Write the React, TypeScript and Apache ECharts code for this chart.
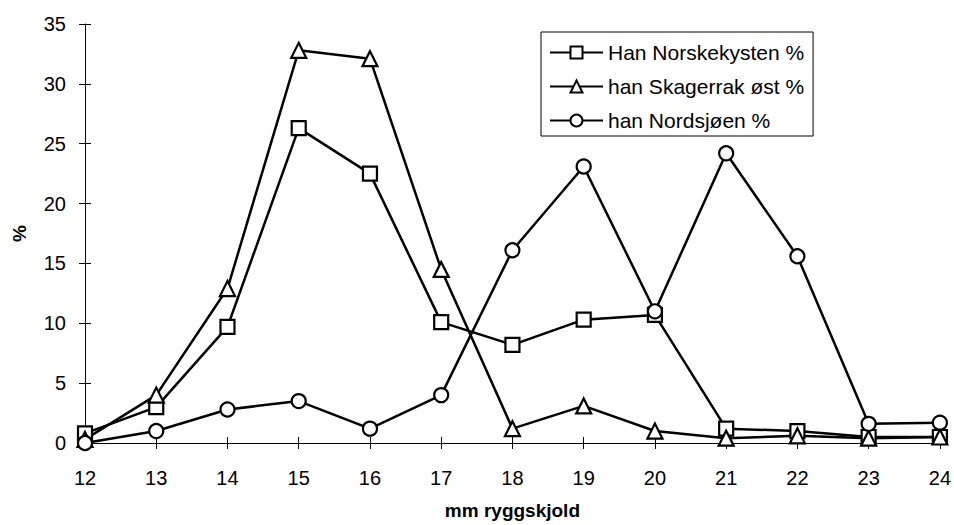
import React, { useEffect, useRef } from "react";
import * as echarts from "echarts";

const categories = ["12", "13", "14", "15", "16", "17", "18", "19", "20", "21", "22", "23", "24"];
const norskekysten = [0.8, 3.0, 9.7, 26.3, 22.5, 10.1, 8.2, 10.3, 10.7, 1.2, 1.0, 0.5, 0.5];
const skagerrak = [0.3, 4.0, 12.9, 32.8, 32.1, 14.5, 1.2, 3.1, 1.0, 0.4, 0.6, 0.4, 0.5];
const nordsjoen = [0.0, 1.0, 2.8, 3.5, 1.2, 4.0, 16.1, 23.1, 11.0, 24.2, 15.6, 1.6, 1.7];
const seriesNames = ["Han Norskekysten %", "han Skagerrak øst %", "han Nordsjøen %"];
const yTicks = { min: 0, max: 35, interval: 5 };

const FONT = "'Liberation Sans', Arial, sans-serif";

export default function App() {
  const ref = useRef<HTMLDivElement>(null);
  useEffect(() => {
    if (!ref.current) return;
    const chart = echarts.init(ref.current, undefined, { renderer: "svg" });
    const mk = (name: string, data: number[], symbol: string, size: number) => ({
      name,
      type: "line",
      data,
      symbol,
      symbolSize: size,
      showAllSymbol: true,
      lineStyle: { color: "#000", width: 2.5 },
      itemStyle: { color: "#fff", borderColor: "#000", borderWidth: 2.2 },
      emphasis: { disabled: true },
    });
    const tickStyle = { color: "#000", width: 1 };
    chart.setOption({
      animation: false,
      backgroundColor: "#fff",
      textStyle: { fontFamily: FONT, color: "#000" },
      grid: { left: 85, right: 14, top: 24, bottom: 80 },
      legend: {
        orient: "vertical",
        left: 541,
        top: 32,
        borderColor: "#000",
        borderWidth: 1,
        padding: [10, 9, 5, 8],
        itemGap: 13,
        itemWidth: 53,
        itemHeight: 15,
        textStyle: { fontFamily: FONT, fontSize: 21, color: "#000" },
        data: seriesNames,
      },
      xAxis: [
        {
          type: "category",
          data: categories,
          boundaryGap: false,
          name: "mm ryggskjold",
          nameLocation: "middle",
          nameGap: 58,
          nameTextStyle: { fontFamily: FONT, fontSize: 19, fontWeight: "bold", color: "#000" },
          axisLine: { lineStyle: { color: "#000", width: 1 } },
          axisTick: { alignWithLabel: true, length: 6, lineStyle: tickStyle },
          axisLabel: { margin: 25, fontSize: 20, color: "#000", fontFamily: FONT },
          splitLine: { show: false },
        },
        {
          type: "category",
          data: categories,
          boundaryGap: false,
          position: "bottom",
          axisLine: { show: false },
          axisTick: { inside: true, alignWithLabel: true, length: 6, lineStyle: tickStyle },
          axisLabel: { show: false },
          splitLine: { show: false },
        },
      ],
      yAxis: [
        {
          type: "value",
          min: yTicks.min,
          max: yTicks.max,
          interval: yTicks.interval,
          name: "%",
          nameLocation: "middle",
          nameGap: 56,
          nameRotate: 90,
          nameTextStyle: { fontFamily: FONT, fontSize: 19, fontWeight: "bold", color: "#000" },
          axisLine: { show: true, lineStyle: { color: "#000", width: 1 } },
          axisTick: { show: true, length: 6, lineStyle: tickStyle },
          axisLabel: { margin: 19, fontSize: 20, color: "#000", fontFamily: FONT },
          splitLine: { show: false },
        },
        {
          type: "value",
          min: yTicks.min,
          max: yTicks.max,
          interval: yTicks.interval,
          position: "left",
          axisLine: { show: false },
          axisTick: { show: true, inside: true, length: 6, lineStyle: tickStyle },
          axisLabel: { show: false },
          splitLine: { show: false },
        },
      ],
      series: [
        mk(seriesNames[0], norskekysten, "rect", 14),
        mk(seriesNames[1], skagerrak, "triangle", 15),
        mk(seriesNames[2], nordsjoen, "circle", 14),
      ],
    });
    return () => chart.dispose();
  }, []);
  return (
    <div
      ref={ref}
      style={{ position: "fixed", left: 0, top: 0, width: 954, height: 525, background: "#fff" }}
    />
  );
}
